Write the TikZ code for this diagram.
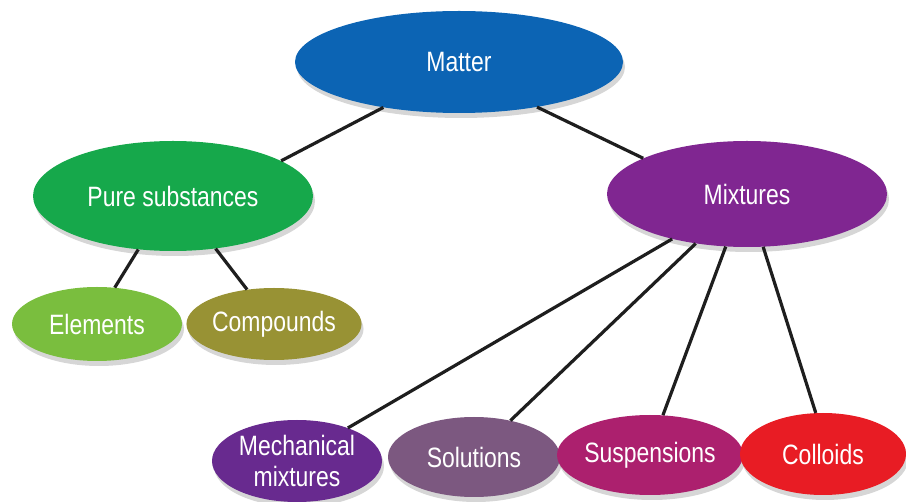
\documentclass[tikz,border=0pt]{standalone}
\usepackage{fontspec}
\setmainfont{Liberation Sans}[FakeStretch=0.82]
\usetikzlibrary{shapes.geometric,shadows}
\definecolor{cMatter}{RGB}{12,100,180}
\definecolor{cPure}{RGB}{22,168,75}
\definecolor{cMix}{RGB}{128,38,145}
\definecolor{cElem}{RGB}{122,190,62}
\definecolor{cComp}{RGB}{152,146,52}
\definecolor{cMech}{RGB}{104,42,143}
\definecolor{cSol}{RGB}{124,88,128}
\definecolor{cSusp}{RGB}{172,32,110}
\definecolor{cColl}{RGB}{232,28,36}
\definecolor{cLine}{RGB}{30,30,30}
\tikzset{
  blob/.style={ellipse, inner sep=0pt, text=white, align=center,
    font=\fontsize{28}{31}\selectfont,
    drop shadow={fill=black, opacity=0.16, shadow xshift=2pt, shadow yshift=-5pt}},
  link/.style={draw=cLine, line width=3.2pt}
}
\begin{document}
\begin{tikzpicture}[x=1pt,y=-1pt]
\useasboundingbox (0,0) rectangle (906,502);
\node[blob, fill=cMatter, minimum width=328pt, minimum height=102pt] (matter) at (459,62) {Matter};
\node[blob, fill=cPure, minimum width=280pt, minimum height=110pt] (pure) at (173,196) {Pure substances};
\node[blob, fill=cMix, minimum width=280pt, minimum height=106pt] (mix) at (747,194) {Mixtures};
\node[blob, fill=cElem, minimum width=170pt, minimum height=74pt] (elem) at (97,324) {Elements};
\node[blob, fill=cComp, minimum width=168pt, minimum height=72pt] (comp) at (274,324) {Compounds};
\node[blob, fill=cMech, minimum width=170pt, minimum height=82pt] (mech) at (297,461) {Mechanical\\mixtures};
\node[blob, fill=cSol, minimum width=172pt, minimum height=80pt] (sol) at (474,457) {Solutions};
\node[blob, fill=cSusp, minimum width=174pt, minimum height=80pt] (susp) at (650,455) {Suspensions};
\node[blob, fill=cColl, minimum width=166pt, minimum height=82pt] (coll) at (823,454) {Colloids};
\draw[link] (matter.211.8) -- (pure.18.7);
\draw[link] (matter.330.5) -- (mix.161.6);
\draw[link] (pure.237.5) -- (elem.64.7);
\draw[link] (pure.309.7) -- (comp.128);
\draw[link] (mix.211.4) -- (mech.33.5);
\draw[link] (mix.224.5) -- (sol.45.7);
\draw[link] (mix.248.9) -- (susp.72.8);
\draw[link] (mix.287.5) -- (coll.100.8);
\end{tikzpicture}
\end{document}
